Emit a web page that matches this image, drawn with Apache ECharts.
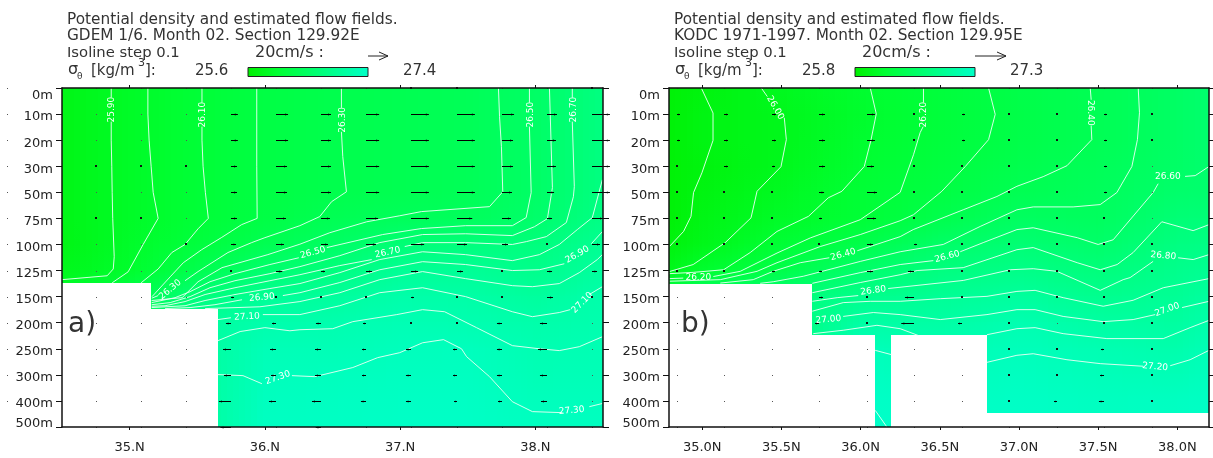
<!DOCTYPE html>
<html><head><meta charset="utf-8">
<style>html,body{margin:0;padding:0;background:#fff}#c{width:1213px;height:458px}</style>
<script src="https://cdn.jsdelivr.net/npm/echarts@6/dist/echarts.min.js"></script>
</head><body><div id="c"></div>
<script>
const depthLabels=['0m','10m','20m','30m','50m','75m','100m','125m','150m','200m','250m','300m','400m','500m'];
const xTicksA=[35,36,37,38], xLabelsA=['35.N','36.N','37.N','38.N'];
const xTicksB=[35,35.5,36,36.5,37,37.5,38], xLabelsB=['35.0N','35.5N','36.0N','36.5N','37.0N','37.5N','38.0N'];
const latRangeA=[34.5,38.5], latRangeB=[34.79,38.2];

// density: one list per latitude, one value per depth level
const fieldLatsA=[34.5,35,35.5,36,36.5,37,37.5,38,38.5];
const densA345=[25.8,25.8,25.8,25.8,25.8,25.8,25.78,25.85,26,26,26,26,26,26];
const densA350=[25.95,25.95,25.95,25.95,25.95,25.95,25.97,26,26.3,26.3,26.3,26.3,26.3,26.3];
const densA355=[26.09,26.09,26.09,26.09,26.09,26.09,26.15,26.3,26.7,27,27,27,27,27];
const densA360=[26.21,26.21,26.21,26.21,26.21,26.22,26.33,26.59,26.95,27.15,27.25,27.28,27.32,27.34];
const densA365=[26.29,26.29,26.29,26.29,26.29,26.35,26.49,26.73,27.01,27.17,27.24,27.3,27.34,27.36];
const densA370=[26.33,26.33,26.33,26.33,26.33,26.41,26.66,26.95,27.13,27.22,27.29,27.33,27.36,27.38];
const densA375=[26.38,26.38,26.38,26.38,26.38,26.42,26.72,26.95,27.1,27.19,27.3,27.33,27.36,27.38];
const densA380=[26.51,26.51,26.51,26.51,26.51,26.55,26.73,26.85,27.02,27.13,27.2,27.24,27.29,27.33];
const densA385=[26.76,26.76,26.76,26.76,26.76,26.8,26.93,27.03,27.14,27.17,27.22,27.25,27.29,27.33];
const densA=[densA345,densA350,densA355,densA360,densA365,densA370,densA375,densA380,densA385];

const fieldLatsB=[34.79,35,35.5,36,36.5,37,37.5,38,38.2];
const densB348=[25.85,25.85,25.85,25.85,25.85,25.85,25.9,26,26.4,26.4,26.4,26.4,26.4,26.4];
const densB350=[25.9,25.93,25.93,25.9,25.92,25.95,25.98,26.15,26.6,26.6,26.6,26.6,26.6,26.6];
const densB355=[26.03,26,26,26.01,26.05,26.1,26.2,26.35,26.7,26.7,26.7,26.7,26.7,26.7];
const densB360=[26.15,26.13,26.15,26.17,26.2,26.2,26.36,26.6,26.85,27.03,27.2,27.25,27.3,27.35];
const densB365=[26.25,26.24,26.25,26.27,26.3,26.37,26.57,26.75,26.92,27.03,27.15,27.2,27.25,27.3];
const densB370=[26.35,26.34,26.35,26.38,26.42,26.52,26.67,26.82,26.98,27.13,27.2,27.24,27.28,27.3];
const densB375=[26.43,26.43,26.43,26.46,26.48,26.5,26.58,26.72,26.87,27.02,27.14,27.19,27.24,27.26];
const densB380=[26.55,26.55,26.55,26.56,26.6,26.68,26.77,26.85,26.92,27,27.09,27.17,27.25,27.27];
const densB382=[26.62,26.62,26.62,26.62,26.62,26.7,26.8,26.9,27,27.08,27.17,27.22,27.27,27.3];
const densB=[densB348,densB350,densB355,densB360,densB365,densB370,densB375,densB380,densB382];

// sea bottom: [lat from, lat to, level from, level to]
const bottomA=[[34.5,35.16,7.47,13],[35.16,35.653,8.46,13]];
const bottomB=[[34.79,35.695,7.5,13],[35.695,36.09,9.46,13],[36.195,36.8,9.46,13],[36.8,38.2,12.48,13]];

// isolines: [lat, depth level]; null = gap left for a label
const a2590=[[34.864,0],[34.864,.37],null,[34.864,1.29],[34.864,2],[34.868,3],[34.871,4],[34.875,5],[34.886,6.47],[34.879,6.94],[34.834,7.2],[34.5,7.35]];
const a2600=[[35.135,0],[35.135,1],[35.144,2],[35.159,3],[35.174,4],[35.211,5],[35.10,6],[34.989,7.05],[34.871,7.47]];
const a2610=[[35.535,0],[35.535,.56],null,[35.535,1.48],[35.535,2],[35.543,3],[35.56,4],[35.582,5],[35.506,5.4],[35.41,6],[35.312,6.31],[35.211,6.94],[35.085,7.47]];
const a2620=[[35.94,0],[35.94,3],[35.943,5],[35.828,5.24],[35.681,5.73],[35.533,6.2],[35.397,6.7],[35.30,7.24],[35.166,8.0]];
const a2630=[[36.566,0],[36.566,.76],null,[36.566,1.68],[36.576,2.63],[36.603,3.98],[36.493,4.36],[36.406,4.93],[36.259,5.28],[36.0,5.74],[35.902,5.93],[35.727,6.31],[35.506,7.04],[35.41,7.39],null,[35.211,7.96],[35.164,8.06]];
const a2640=[[37.727,0],[37.735,1.1],[37.749,2.25],[37.759,3.98],[37.661,4.55],[37.157,4.74],[36.997,4.9],[36.753,5.13],[36.48,5.55],[36.259,5.99],[36.022,6.39],[35.683,6.89],[35.506,7.43],[35.388,8.04],[35.163,8.15]];
const a2650=[[37.956,0],[37.956,.56],null,[37.956,1.48],[37.969,4.01],[37.932,4.97],[37.83,5.28],[37.484,5.28],[37.157,5.39],[36.871,5.62],[36.458,6.12],null,[36.251,6.51],[36.037,6.77],[35.779,7.12],[35.594,7.43],[35.447,7.81],[35.336,8.04],[35.163,8.23]];
const a2660=[[38.104,0],[38.126,3.82],[38.089,5.01],[37.993,5.32],[37.83,5.66],[37.484,5.59],[37.166,5.62],[36.849,5.93],[36.554,6.43],[36.259,6.85],[36.037,7.12],[35.779,7.39],[35.594,7.66],[35.447,8.0],[35.30,8.23],[35.163,8.31]];
const a2670=[[38.273,0],[38.273,.37],null,[38.273,1.29],[38.288,3.78],[38.281,4.17],[38.229,5.16],[38.081,5.7],[37.934,5.89],[37.83,6.0],[37.484,5.93],[37.166,5.93],[37.034,6.08],null,[36.79,6.58],[36.554,6.81],[36.259,7.16],[36.037,7.39],[35.779,7.66],[35.558,7.92],[35.41,8.19],[35.262,8.35],[35.163,8.37]];
const a2680=[[38.495,3.52],[38.421,4.97],[38.31,5.43],[38.177,6.0],[38.03,6.39],[37.83,6.62],[37.484,6.39],[37.166,6.28],[36.849,6.58],[36.554,7.08],[36.259,7.5],[36.037,7.69],[35.779,7.92],[35.558,8.15],[35.41,8.35],[35.163,8.42]];
const a2690=[[38.495,5.51],[38.414,5.97],null,[38.214,6.74],[38.03,6.97],[37.83,7.0],[37.484,6.77],[37.166,6.66],[36.849,6.97],[36.554,7.46],[36.259,7.85],[36.133,7.96],null,[35.831,8.12],[35.631,8.31],[35.447,8.42],[35.262,8.46]];
const a2700=[[38.495,6.39],[38.458,6.58],[38.325,7.08],[38.177,7.5],[37.978,7.62],[37.83,7.58],[37.484,7.31],[37.166,7.04],[36.849,7.35],[36.554,7.85],[36.259,8.19],[35.963,8.39],[35.558,8.46]];
const a2710=[[38.495,7.62],[38.399,7.92],null,[38.258,8.5],[38.177,8.61],[37.978,8.77],[37.83,8.58],[37.484,8.0],[37.166,7.66],[36.849,7.85],[36.554,8.35],[36.259,8.69],[35.985,8.69],null,[35.749,8.81],[35.653,8.88]];
const a2720=[[35.653,9.69],[35.817,9.34],[36.0,9.19],[36.185,9.31],[36.259,9.27],[36.502,9.23],[36.65,8.96],[36.975,8.69],[37.166,8.5],[37.329,8.58],[37.565,9.19],[37.83,9.88],[38.03,10],[38.177,10.07],[38.325,9.92],[38.495,9.54]];
const a2730=[[35.653,10.99],[35.838,11.03],[35.978,11.34],null,[36.2,11.03],[36.369,11.07],[36.65,10.72],[36.834,10.34],[36.997,10.15],[37.166,9.77],[37.321,9.65],[37.454,10],[37.491,10.3],[37.661,11.07],[37.83,12.03],[37.978,12.41],[38.2,12.45],null,[38.399,12.22],[38.495,12.1]];
const isolinesA=[a2590,a2600,a2610,a2620,a2630,a2640,a2650,a2660,a2670,a2680,a2690,a2700,a2710,a2720,a2730];

const b2590=[[34.994,0],[35.068,.96],[35.068,2.01],[34.998,3.25],[34.945,4.01],[34.929,4.92],[34.882,5.5],[34.794,6.07]];
const b2600=[[35.373,0],[35.411,.33],null,[35.518,1.14],[35.531,1.98],[35.497,3.02],[35.346,3.96],[35.308,4.98],[35.145,5.93],[34.943,6.77],[34.792,7.04]];
const b2610=[[36.061,0],[36.099,.99],[36.065,2.01],[36.023,3.01],[35.882,3.96],[35.796,4.21],[35.671,4.92],[35.472,5.5],[35.303,6.31],[35.135,6.97],[34.943,7.07],[34.792,7.12]];
const b2620=[[36.397,0],[36.397,.56],null,[36.395,1.48],[36.376,1.71],[36.334,2.56],[36.25,4.0],[35.998,5.05],[35.682,5.75],[35.472,6.33],[35.24,7.03],[35.07,7.23],null,[34.88,7.29],[34.792,7.31]];
const b2630=[[36.808,0],[36.85,1.01],[36.808,1.98],[36.661,3.01],[36.513,3.96],[36.334,4.86],[36.25,5.09],[35.998,5.62],[35.745,6.08],[35.472,6.7],[35.346,7.03],[35.114,7.35],[34.792,7.41]];
const b2640=[[37.45,0],[37.456,.45],null,[37.456,1.45],[37.46,1.98],[37.303,2.98],[37.153,3.4],[36.987,3.77],[36.861,4.16],[36.648,4.67],[36.332,5.43],[36.25,5.7],[35.979,6.24],null,[35.802,6.51],[35.619,6.7],[35.448,7.03],[35.322,7.35],[35.114,7.48]];
const b2650=[[37.753,0],[37.761,.95],[37.748,1.98],[37.713,3.01],[37.618,4.01],[37.513,4.47],[37.342,4.56],[37.09,4.56],[36.987,4.67],[36.755,5.31],[36.522,6.0],[36.25,6.28],[35.998,6.65],[35.638,7.22],[35.448,7.43],[35.366,7.49]];
const b2660=[[38.2,3.01],[38.113,3.36],[38.049,3.39],null,[37.879,3.67],[37.847,4.01],[37.595,5.82],[37.5,6.0],[37.368,5.74],[37.09,5.36],[36.987,5.43],[36.774,5.93],[36.629,6.28],null,[36.459,6.62],[36.25,6.77],[35.998,7.08],[35.695,7.49]];
const b2670=[[38.2,5.24],[38.1,5.47],[37.902,5.13],[37.721,6.31],[37.62,6.77],[37.513,6.97],[37.368,6.7],[37.09,6.12],[36.987,6.2],[36.648,6.89],[36.357,7.0],[36.25,7.16],[35.998,7.46],[35.695,7.85]];
const b2680=[[38.2,6.39],[38.1,6.58],[38.005,6.51],null,[37.847,6.65],[37.702,7.27],[37.658,7.35],[37.513,7.76],[37.239,7.03],[37.09,6.93],[36.945,6.97],[36.648,7.38],[36.174,7.69],null,[35.985,7.96],[35.852,8.04],[35.695,8.18]];
const b2690=[[38.2,7.31],[37.911,7.66],[37.721,8.14],[37.532,8.37],[37.279,8.04],[37.102,7.76],[36.987,7.8],[36.798,7.99],[36.503,8.08],[36.25,8.18],[36.061,8.18],[35.89,8.23],[35.695,8.56]];
const b2700=[[38.2,8.18],[38.03,8.42],null,[37.86,8.69],[37.721,8.88],[37.532,8.96],[37.279,8.76],[37.102,8.5],[36.987,8.5],[36.798,8.69],[36.503,8.88],[36.25,8.69],[36.08,8.61],[35.89,8.76]];
const b2710=[[38.2,8.91],[38.081,9.19],[37.911,9.61],[37.555,9.61],[37.279,9.42],[37.102,9.19],[36.987,9.23],[36.798,9.46],null,[36.364,9.49],[36.25,9.23],[36.103,9.1],[35.89,9.29],[35.701,9.42]];
const b2720=[[38.2,10.06],[38.081,10.42],[37.955,10.65],null,[37.784,10.67],[37.513,10.57],[37.303,10.42],[37.09,10.19],[36.987,10.25],[36.798,10.52],null,[36.198,10.23],[36.092,10.06]];
const b2730=[[36.092,12.36],[36.166,13]];
const isolinesB=[b2590,b2600,b2610,b2620,b2630,b2640,b2650,b2660,b2670,b2680,b2690,b2700,b2710,b2720,b2730];

// isoline labels: [lat, level, text, rotation]
const isoLabelsA=[[34.864,.83,'25.90',90],[35.543,1.02,'26.10',90],[36.576,1.22,'26.30',90],[37.962,1.02,'26.50',90],[38.28,.83,'26.70',90],[35.30,7.73,'26.30',40],[36.355,6.31,'26.50',15],[36.908,6.31,'26.70',12],[38.31,6.39,'26.90',30],[35.978,8.04,'26.90',5],[35.868,8.77,'27.10',3],[38.347,8.23,'27.10',45],[36.096,11.11,'27.30',20],[38.268,12.37,'27.30',5]];
const isoLabelsB=[[35.461,.76,'26.00',-60],[36.395,1.02,'26.20',90],[37.45,.95,'26.40',-90],[34.975,7.27,'26.20',0],[35.89,6.39,'26.40',15],[36.547,6.47,'26.60',15],[36.08,7.77,'26.80',8],[35.796,8.88,'27.00',5],[37.94,3.39,'26.60',0],[37.911,6.43,'26.80',-5],[37.936,8.5,'27.00',20],[37.86,10.69,'27.20',-5]];

// eastward flow in cm/s, one list per depth level; columns are the latitudes below
const flowLatsA=[34.75,35.083,35.417,35.75,36.083,36.417,36.75,37.083,37.417,37.75,38.083,38.417];
const flowA00=[0,0,0,0,0,0,0,1,1,0,0,1];
const flowA01=[0,0,0,6.5,11.5,9.5,12.5,17,17,11.5,9.5,17];
const flowA02=[0,0,0,6.5,11.5,9.5,12.5,17,17,10.5,8.5,17];
const flowA03=[1,1,1,5.7,10.5,9.5,12.5,17,17,10.5,8.5,17];
const flowA04=[0,0,0,5.7,10.5,9.5,12.5,17,17,9.5,6.7,17];
const flowA05=[1,1,0,5.7,9.5,8.5,11.5,17,14.5,8.5,4.8,10.5];
const flowA06=[0,0,1,4.8,7.6,6.7,9.5,12.5,9.5,5.7,1,7.6];
const flowA07=[0,0,0,1,6,3.8,5.7,6.7,5.7,1,4.8,4.8];
const flowA08=[0,0,0,2.8,2,1,2,2.8,2,2,5.7,2];
const flowA09=[0,0,0,-4.8,-3.8,-4.8,-2.8,-1,-1,-4.8,-6.7,0];
const flowA10=[0,0,0,-7.6,-5.7,-5.7,-3.8,-4.8,-3.8,-4.8,-8.6,0];
const flowA11=[0,0,0,-6.7,-4.8,-5.7,-3.8,-4.8,-3.8,-4.8,-6.7,0];
const flowA12=[0,0,0,-11.5,-6.7,-8.6,-4.8,-4.8,-2.8,-3.8,-5.7,0];
const flowA13=[0,0,0,-10,0,-5,0,0,0,0,0,0];
const flowA=[flowA00,flowA01,flowA02,flowA03,flowA04,flowA05,flowA06,flowA07,flowA08,flowA09,flowA10,flowA11,flowA12,flowA13];
const strayLatA=34.094;

const flowLatsB=[34.84,35.14,35.44,35.74,36.04,36.34,36.64,36.94,37.24,37.54,37.84];
const flowB00=[0,0,0,0,0,0,0,0,0,0,0];
const flowB01=[1.9,2.5,2.5,3.8,5,1.3,1.9,.6,.6,1.9,.6];
const flowB02=[1.9,2.5,2.5,3.8,5,1.3,1.9,.6,.6,1.9,.6];
const flowB03=[1.3,2.5,1.9,3.8,4.4,1.3,.6,.6,.6,1.9,0];
const flowB04=[.6,1.3,.6,3.2,6.3,.6,.6,.6,.6,1.9,0];
const flowB05=[.6,.6,.6,1.9,5.7,.6,.6,.6,.6,1.3,0];
const flowB06=[.6,.6,.6,.6,3.8,1.9,.6,.6,.6,1.3,.6];
const flowB07=[.6,.6,1.9,1.9,3.8,-3.8,.6,.6,.6,.6,.6];
const flowB08=[0,0,0,2.5,.6,-5.7,.6,.6,.6,.6,.6];
const flowB09=[0,0,0,-2.5,-1.3,-8,-2.5,.6,0,-1.3,.6];
const flowB10=[0,0,0,0,0,0,0,-1.3,-.6,-1.9,-1.3];
const flowB11=[0,0,0,0,0,0,0,-1.3,-.6,-2.5,-.6];
const flowB12=[0,0,0,0,0,0,0,-.6,-1.9,-3.2,-.6];
const flowB13=[0,0,0,0,0,0,0,0,0,0,0];
const flowB=[flowB00,flowB01,flowB02,flowB03,flowB04,flowB05,flowB06,flowB07,flowB08,flowB09,flowB10,flowB11,flowB12,flowB13];

const colorRangeA=[25.6,27.4], colorRangeB=[25.8,27.3];
const pxPerCmA=1.05, pxPerCmB=1.585;

function colorOf(d,range){
  const t=Math.max(0,Math.min(1,(d-range[0])/(range[1]-range[0])));
  return 'rgb(0,'+Math.round(240+15*Math.min(1,t*4))+','+Math.round(200*t)+')';
}
function fieldSeries(lats,dens,range,idx){
  const data=[];
  for(let i=0;i<lats.length-1;i++)for(let j=0;j<13;j++)
    data.push([lats[i],lats[i+1],j,j+1,dens[i][j],dens[i+1][j],dens[i][j+1],dens[i+1][j+1]]);
  return {type:'custom',xAxisIndex:idx,yAxisIndex:idx,silent:true,animation:false,z:1,clip:true,
    encode:{x:[0,1],y:[2,3]},data,
    renderItem(p,api){
      const la=api.value(0),lb=api.value(1),t=api.value(2),b=api.value(3);
      const tl=api.value(4),tr=api.value(5),bl=api.value(6),br=api.value(7);
      const p0=api.coord([la,t]),p1=api.coord([lb,b]);
      const x0=Math.floor(p0[0]),x1=Math.ceil(p1[0]),y0=Math.floor(p0[1]),y1=Math.ceil(p1[1]);
      const kids=[];const step=6;
      for(let x=x0;x<x1;x+=step){
        const f=Math.min(1,(x+step/2-p0[0])/(p1[0]-p0[0]));
        const top=tl+(tr-tl)*f,bot=bl+(br-bl)*f;
        kids.push({type:'rect',shape:{x,y:y0,width:Math.min(step,x1-x),height:y1-y0+(b<13?1:0)},
          style:{fill:new echarts.graphic.LinearGradient(0,0,0,1,[{offset:0,color:colorOf(top,range)},{offset:1,color:colorOf(bot,range)}])}});
      }
      return {type:'group',children:kids};
    }};
}
function bottomSeries(rects,idx){
  return {type:'custom',xAxisIndex:idx,yAxisIndex:idx,silent:true,animation:false,z:2,clip:true,
    encode:{x:[0,1],y:[2,3]},data:rects,
    renderItem(p,api){
      const a=api.coord([api.value(0),api.value(2)]),b=api.coord([api.value(1),api.value(3)]);
      const x0=Math.round(a[0]),x1=Math.round(b[0]),y0=Math.round(a[1]),y1=Math.round(b[1]);
      return {type:'rect',shape:{x:x0,y:y0,width:x1-x0,height:y1-y0},style:{fill:'#fff'}};
    }};
}
function isoSeries(lines,idx){
  return lines.map(l=>({type:'line',xAxisIndex:idx,yAxisIndex:idx,silent:true,animation:false,z:3,symbol:'none',
    connectNulls:false,lineStyle:{color:'rgba(235,255,245,0.9)',width:1},
    data:l.map(p=>p||['-','-'])}));
}
function labelSeries(labels,idx){
  return {type:'custom',xAxisIndex:idx,yAxisIndex:idx,silent:true,animation:false,z:4,clip:false,
    encode:{x:0,y:1},data:labels,
    renderItem(p,api){
      const c=api.coord([api.value(0),api.value(1)]);
      const l=labels[p.dataIndex];
      return {type:'text',x:c[0],y:c[1],rotation:l[3]*Math.PI/180,
        style:{text:l[2],fill:'#fff',font:'9px "DejaVu Sans"',align:'center',verticalAlign:'middle'}};
    }};
}
function flowSeries(lats,flow,scale,idx){
  const data=[];
  flow.forEach((row,lev)=>row.forEach((u,c)=>data.push([lats[c],lev,u])));
  return {type:'custom',xAxisIndex:idx,yAxisIndex:idx,silent:true,animation:false,z:5,clip:false,
    encode:{x:0,y:1},data,
    renderItem(p,api){
      const c=api.coord([api.value(0),api.value(1)]);
      const u=api.value(2),x=Math.round(c[0]),y=Math.round(c[1]);
      const len=u*scale;
      if(u===0) return {type:'rect',shape:{x:x,y:y,width:1,height:1},style:{fill:'#555'}};
      if(Math.abs(len)<2.5) return {type:'rect',shape:{x:x-1,y:y-1,width:2,height:2},style:{fill:'#111'}};
      const dir=Math.sign(len),tip=x+len,h=Math.min(3,Math.abs(len)/2);
      return {type:'group',children:[
        {type:'line',shape:{x1:x,y1:y+.5,x2:tip,y2:y+.5},style:{stroke:'#000',lineWidth:1}},
        {type:'polygon',shape:{points:[[tip,y+.5],[tip-h*dir,y-.5],[tip-h*dir,y+1.5]]},style:{fill:'#000'}}
      ]};
    }};
}
const axisLine={lineStyle:{color:'#111',width:1.5}};
const tickStyle={lineStyle:{color:'#111',width:1}};
const labelFont={color:'#222',fontSize:13,fontFamily:'DejaVu Sans'};
function xAxes(range,ticks,labels,grid){
  const base={type:'value',gridIndex:grid,min:range[0],max:range[1],splitLine:{show:false},z:10,axisLine:{...axisLine,onZero:false}};
  return [
   {...base,position:'bottom',axisTick:{...tickStyle,length:3,customValues:ticks},
    axisLabel:{...labelFont,margin:14,customValues:ticks,formatter:v=>labels[ticks.indexOf(v)]}},
   {...base,position:'top',axisTick:{...tickStyle,length:3,customValues:ticks},axisLabel:{show:false}}
  ];
}
function yAxes(grid){
  const base={type:'value',gridIndex:grid,min:0,max:13,interval:1,inverse:true,splitLine:{show:false},z:10,axisLine:{...axisLine,onZero:false}};
  return [
   {...base,position:'left',axisTick:{...tickStyle,length:6},
    axisLabel:{...labelFont,margin:9,
      rich:{f:{...labelFont,padding:[15,0,0,0]},m:{...labelFont,padding:[6,0,0,0]},l:{...labelFont,padding:[0,0,6,0]}},
      formatter:v=>'{'+(v===0?'f':v===13?'l':'m')+'|'+depthLabels[v]+'}'}},
   {...base,position:'right',axisTick:{...tickStyle,length:6},axisLabel:{show:false}}
  ];
}
function txt(text,x,y,size){
  return {type:'text',silent:true,z:20,style:{text,x,y,fill:'#333',font:(size||15.3)+'px "DejaVu Sans"',align:'left',verticalAlign:'middle'}};
}
function arrowGlyph(x0,x1,y){
  return [{type:'line',silent:true,z:20,shape:{x1:x0,y1:y,x2:x1,y2:y},style:{stroke:'#222',lineWidth:1}},
          {type:'polyline',silent:true,z:20,shape:{points:[[x1-9,y-4],[x1,y],[x1-9,y+4]]},style:{stroke:'#222',lineWidth:1,fill:'none'}}];
}
function header(ox,l2,minT,maxT,range,arrEnd){
  const barX=ox+181;
  return [
   txt('Potential density and estimated flow fields.',ox,20),
   txt(l2,ox,36.5),
   txt('Isoline step 0.1',ox,53,14.8),
   txt('20cm/s :',ox+188,53,16),
   txt('σ',ox+1,70,16),txt('θ',ox+10,77,9),txt('[kg/m',ox+24,71,15),txt('3',ox+71,63,11),txt(']:',ox+78,71,15),
   txt(minT,ox+128,71,15),txt(maxT,ox+336,71,15),
   {type:'rect',silent:true,z:20,shape:{x:barX,y:67.5,width:120,height:9},
    style:{stroke:'#222',lineWidth:1,fill:new echarts.graphic.LinearGradient(0,0,1,0,[{offset:0,color:colorOf(range[0],range)},{offset:.25,color:colorOf(range[0]+(range[1]-range[0])*.25,range)},{offset:1,color:colorOf(range[1],range)}])}},
   ...arrowGlyph(ox+301,arrEnd,56)
  ];
}
const chart=echarts.init(document.getElementById('c'),null,{renderer:'canvas'});
chart.setOption({
  animation:false,backgroundColor:'#fff',
  grid:[{left:62,right:610,top:88,bottom:31},{left:669,right:4,top:88,bottom:31}],
  xAxis:[...xAxes(latRangeA,xTicksA,xLabelsA,0),...xAxes(latRangeB,xTicksB,xLabelsB,1)],
  yAxis:[...yAxes(0),...yAxes(1)],
  series:[
    fieldSeries(fieldLatsA,densA,colorRangeA,0),bottomSeries(bottomA,0),...isoSeries(isolinesA,0),labelSeries(isoLabelsA,0),flowSeries(flowLatsA,flowA,pxPerCmA,0),
    flowSeries([strayLatA],flowA.slice(0,13).map(()=>[0]),pxPerCmA,0),
    fieldSeries(fieldLatsB,densB,colorRangeB,2),bottomSeries(bottomB,2),...isoSeries(isolinesB,2),labelSeries(isoLabelsB,2),flowSeries(flowLatsB,flowB,pxPerCmB,2)
  ],
  graphic:{elements:[
    ...header(67,'GDEM 1/6. Month 02. Section 129.92E','25.6','27.4',colorRangeA,388),
    ...header(674,'KODC 1971-1997. Month 02. Section 129.95E','25.8','27.3',colorRangeB,1006),
    txt('a)',68,325,28),txt('b)',681,325,28)
  ]}
});
</script></body></html>
